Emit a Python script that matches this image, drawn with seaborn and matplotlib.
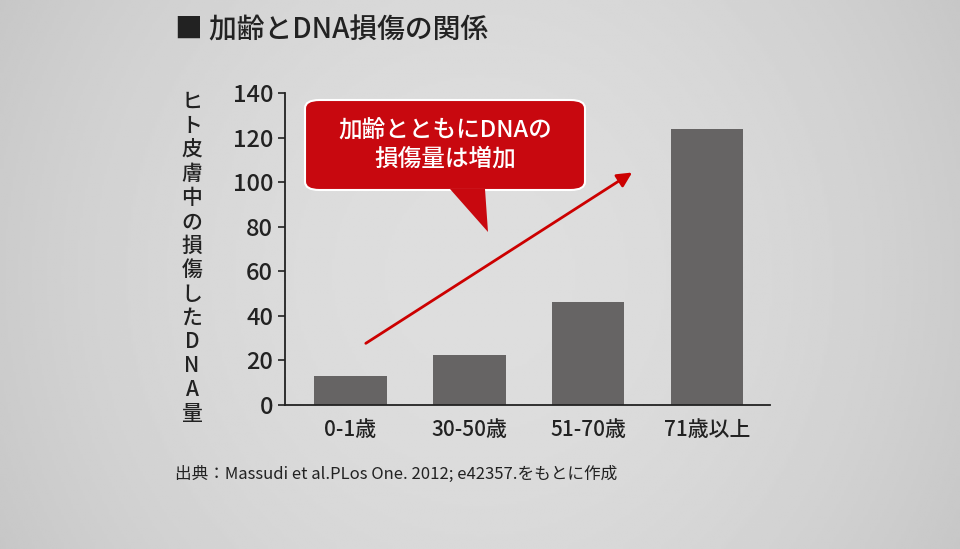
import numpy as np
import matplotlib
matplotlib.use("Agg")
import matplotlib.pyplot as plt
import seaborn as sns
import pandas as pd
from matplotlib.patches import FancyBboxPatch, Polygon

categories = ["0-1歳", "30-50歳", "51-70歳", "71歳以上"]
values = [13, 22.5, 46, 124]
yticks = [0, 20, 40, 60, 80, 100, 120, 140]
title = "■ 加齢とDNA損傷の関係"
ylabel = "ヒト皮膚中の損傷したDNA量"
callout = "加齢とともにDNAの\n損傷量は増加"
source = "出典：Massudi et al.PLos One. 2012; e42357.をもとに作成"

FONT = "Noto Sans CJK JP"
plt.rcParams["font.family"] = FONT

W, H = 960, 549
fig = plt.figure(figsize=(9.6, 5.49), dpi=100)
def px(x, y):
    return (x / W, 1 - y / H)

bg = fig.add_axes([0, 0, 1, 1])
xx = np.linspace(-1, 1, 400)
yy = np.linspace(-1, 1, 200)
X, Y = np.meshgrid(xx, yy)
grad = 0.87 - 0.07 * (X ** 2) - 0.02 * (Y ** 2)
bg.imshow(grad, cmap="gray", vmin=0, vmax=1, aspect="auto", extent=[0, 1, 0, 1])
bg.axis("off")

ax = fig.add_axes([285 / W, 1 - 405 / H, (770 - 285) / W, (405 - 93) / H])
ax.patch.set_alpha(0)
df = pd.DataFrame({"cat": categories, "val": values})
sns.barplot(data=df, x="cat", y="val", color="#666464", width=0.61, saturation=1, ax=ax)
ax.set_xlim(-0.55, 3.53)
ax.set_ylim(0, 140)
ax.set_yticks(yticks)
ax.tick_params(axis="y", labelsize=17, length=5, width=1.2, color="#222")
ax.tick_params(axis="x", labelsize=15, length=0, pad=10)
for lab in ax.get_yticklabels() + ax.get_xticklabels():
    lab.set_fontweight("medium")
    lab.set_color("#222")
ax.set_xlabel("")
ax.set_ylabel("")
for s in ["top", "right"]:
    ax.spines[s].set_visible(False)
for s in ["left", "bottom"]:
    ax.spines[s].set_linewidth(1.3)
    ax.spines[s].set_color("#222")

ax.annotate("", xy=(2.39, 105), xytext=(0.11, 27),
            arrowprops=dict(arrowstyle="-|>", color="#cc0000", lw=2, mutation_scale=22),
            annotation_clip=False)

x0, y0 = px(305, 190)
x1, y1 = px(585, 100)
box = FancyBboxPatch((x0, y0), x1 - x0, y1 - y0, boxstyle="round,pad=0,rounding_size=0.015",
                     transform=fig.transFigure, facecolor="#c8080f", edgecolor="white", lw=1.5)
fig.add_artist(box)
tail = Polygon([px(450, 189), px(488, 232), px(485, 189)], closed=True,
               transform=fig.transFigure, facecolor="#c8080f", edgecolor="none")
fig.add_artist(tail)
fig.text(*px(445, 145), callout, ha="center", va="center", color="white", fontsize=17,
         fontweight="medium", linespacing=1.3)

fig.text(*px(175, 30), title, ha="left", va="center", fontsize=20, fontweight="medium", color="#222")
fig.text(*px(192, 258), "\n".join(ylabel), ha="center", va="center", fontsize=15,
         fontweight="medium", color="#222", linespacing=1.12)
fig.text(*px(175, 474), source, ha="left", va="center", fontsize=12, color="#222")

fig.savefig("out.png", dpi=100)
